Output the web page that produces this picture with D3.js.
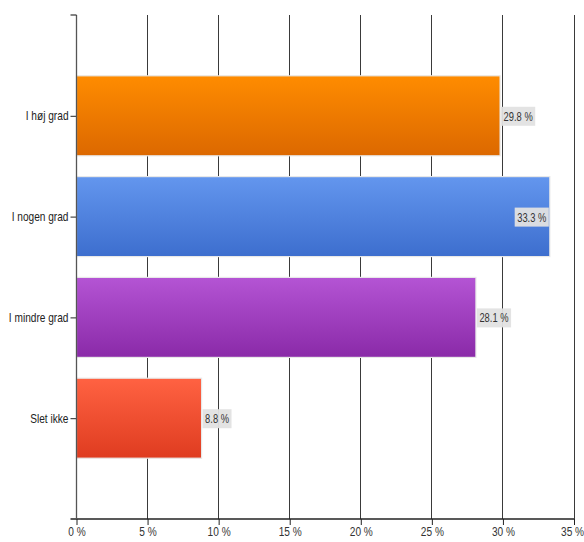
<!DOCTYPE html>
<html>
<head>
<meta charset="utf-8">
<script src="https://cdn.jsdelivr.net/npm/d3@7"></script>
<style>
  html, body { margin: 0; padding: 0; background: #fff; }
  svg text { font-family: "Liberation Sans", Arial, sans-serif; }
</style>
</head>
<body>
<svg id="chart" width="584" height="542"></svg>
<script>
// Answer categories and their shares (percent)
const categories = ["I høj grad", "I nogen grad", "I mindre grad", "Slet ikke"];
const values = [29.8, 33.3, 28.1, 8.8];
const xTicks = [0, 5, 10, 15, 20, 25, 30, 35];
// Top / bottom gradient stops for each bar
const topColors = ["#ff8c00", "#6396ee", "#b454d4", "#ff6242"];
const bottomColors = ["#dc6800", "#3d6ece", "#8a2aa8", "#df3c20"];

const svg = d3.select("#chart");
const W = 584;
const SQ = 0.78; // horizontal squeeze for the condensed lettering

const x = d3.scaleLinear().domain([0, 35]).range([76.5, 574]);
const y = d3.scalePoint().domain(categories).range([15, 519]).padding(1);
const barH = 80;

const defs = svg.append("defs");
categories.forEach((c, i) => {
  const g = defs.append("linearGradient")
    .attr("id", "grad" + i).attr("x1", 0).attr("y1", 0).attr("x2", 0).attr("y2", 1);
  g.append("stop").attr("offset", "0%").attr("stop-color", topColors[i]);
  g.append("stop").attr("offset", "100%").attr("stop-color", bottomColors[i]);
});

// Vertical grid lines
svg.append("g").selectAll("line")
  .data(xTicks.slice(1))
  .join("line")
  .attr("x1", d => x(d)).attr("x2", d => x(d))
  .attr("y1", 15).attr("y2", 519)
  .attr("stroke", "#3a3a3a").attr("stroke-width", 1)
  .attr("shape-rendering", "crispEdges");

// Bars
svg.append("g").selectAll("rect")
  .data(values)
  .join("rect")
  .attr("x", x(0))
  .attr("y", (d, i) => y(categories[i]) - barH / 2)
  .attr("width", d => x(d) - x(0))
  .attr("height", barH)
  .attr("fill", (d, i) => `url(#grad${i})`)
  .attr("stroke", "#e8e8e8").attr("stroke-width", 1.2);

// Squeeze a text horizontally around its own x position
function squeeze(sel) {
  sel.each(function () {
    const t = d3.select(this);
    const x0 = +t.attr("x") || 0;
    t.attr("x", x0 / SQ).attr("transform", `scale(${SQ},1)`);
  });
}

// X axis
const xAxis = d3.axisBottom(x)
  .tickValues(xTicks)
  .tickFormat(d => d + " %")
  .tickSize(6)
  .tickSizeOuter(0);
const gx = svg.append("g").attr("transform", "translate(0,519)").call(xAxis);
gx.select(".domain").remove();
gx.append("line").attr("x1", 70.5).attr("x2", 574).attr("y1", 0).attr("y2", 0)
  .attr("stroke", "#222").attr("stroke-width", 1.3);
gx.selectAll(".tick line").attr("stroke", "#222");
gx.selectAll(".tick text").attr("font-size", 13).attr("fill", "#333").attr("dy", "0.6em")
  .call(squeeze);
// keep the last label inside the right edge
gx.selectAll(".tick text").filter(d => d === 35).attr("dx", -2.5);

// Y axis
const yAxis = d3.axisLeft(y).tickSize(6).tickSizeOuter(0).tickPadding(2);
const gy = svg.append("g").attr("transform", `translate(${x(0)},0)`).call(yAxis);
gy.select(".domain").remove();
gy.append("line").attr("x1", 0).attr("x2", 0).attr("y1", 15).attr("y2", 519)
  .attr("stroke", "#555").attr("stroke-width", 1.3);
gy.append("line").attr("x1", -6).attr("x2", 0).attr("y1", 15).attr("y2", 15)
  .attr("stroke", "#333").attr("stroke-width", 1.2);
gy.selectAll(".tick line").attr("stroke", "#222");
gy.selectAll(".tick text").attr("font-size", 13).attr("fill", "#222")
  .call(squeeze);

// Value labels in grey boxes
const lab = svg.append("g").selectAll("g")
  .data(values)
  .join("g");
lab.each(function (d, i) {
  const g = d3.select(this);
  const txt = d.toFixed(1) + " %";
  const t = g.append("text").text(txt)
    .attr("font-size", 12).attr("fill", "#333")
    .attr("dominant-baseline", "central");
  const tw = t.node().getComputedTextLength() * SQ;
  const w = tw + 5;
  const h = 19;
  const end = x(d);
  const inside = end + w > W - 4;
  const bx = inside ? end - w - 1 : end + 1;
  const cy = y(categories[i]);
  g.insert("rect", "text")
    .attr("x", bx).attr("y", cy - h / 2 + 0.5)
    .attr("width", w).attr("height", h)
    .attr("fill", "#e2e2e2").attr("opacity", 0.95);
  t.attr("x", (bx + 2.5) / SQ).attr("y", cy + 0.5)
    .attr("transform", `scale(${SQ},1)`);
});
</script>
</body>
</html>
